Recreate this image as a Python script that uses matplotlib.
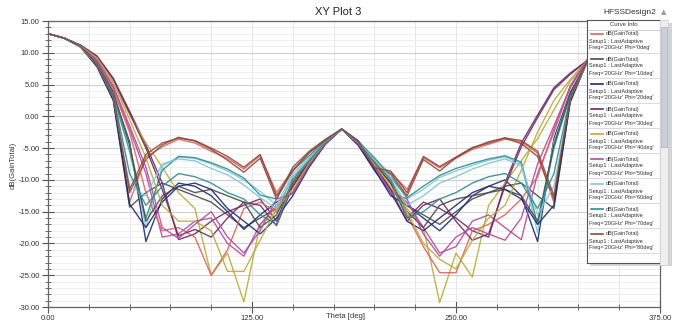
import numpy as np
import matplotlib
matplotlib.use("Agg")
import matplotlib.pyplot as plt
from matplotlib.ticker import MultipleLocator, FixedLocator
from matplotlib.patches import Rectangle

plt.rcParams['font.family'] = ['Liberation Sans', 'DejaVu Sans']

# ------------------------------
# data: dB(GainTotal) vs Theta, one curve per Phi cut
# ------------------------------
theta = list(range(0, 361, 10))
phi_list = [0, 10, 20, 30, 40, 50, 60, 70, 80, 90, 100, 110, 120, 130, 140, 150, 160, 170]

gain_phi0 = [13.0, 12.3, 11.0, 8.0, 2.8, -13.5, -6.4, -4.8, -3.6, -4.2, -5.5, -6.6, -8.3, -6.2, -12.0, -8.4, -5.8, -3.8, -2.0,
             -4.0, -8.2, -8.8, -11.5, -6.5, -8.1, -6.6, -5.2, -4.4, -3.6, -4.0, -5.8, -13.6, 2.6, 8.6, 11.0, 12.3, 13.0]
gain_phi10 = [13.0, 12.3, 10.9, 7.8, 2.5, -14.3, -12.0, -10.5, -11.5, -12.5, -13.5, -15.5, -17.5, -16.0, -14.5, -11.0, -7.5, -4.2, -2.0,
              -4.3, -8.0, -11.5, -14.0, -15.5, -17.0, -15.0, -13.0, -12.0, -11.0, -10.5, -12.5, -14.5, 2.2, 8.4, 10.9, 12.3, 13.0]
gain_phi20 = [13.0, 12.3, 11.0, 8.2, 3.5, -4.0, -19.7, -13.0, -10.5, -11.0, -12.5, -15.0, -17.8, -15.5, -13.5, -12.0, -7.8, -4.3, -2.0,
              -4.5, -8.3, -12.5, -14.0, -16.0, -18.0, -15.5, -12.5, -11.0, -10.0, -12.5, -19.7, -3.5, 3.8, 8.3, 11.0, 12.3, 13.0]
gain_phi30 = [13.0, 12.3, 11.2, 9.5, 6.0, 0.8, -4.5, -10.5, -19.4, -18.5, -16.5, -15.0, -14.0, -13.0, -16.5, -10.0, -7.0, -4.0, -2.0,
              -3.8, -7.2, -10.5, -16.0, -13.5, -14.5, -16.0, -18.0, -19.0, -10.5, -4.2, 0.2, 4.5, 6.8, 8.7, 11.2, 12.3, 13.0]
gain_phi40 = [13.0, 12.3, 11.1, 9.2, 5.3, 0.3, -4.2, -8.0, -12.0, -14.5, -25.0, -21.5, -29.2, -17.0, -15.0, -10.5, -7.0, -4.0, -2.0,
              -4.1, -7.3, -10.0, -14.5, -17.5, -29.3, -21.5, -25.3, -14.0, -10.5, -7.0, -3.5, 1.0, 5.5, 8.6, 11.1, 12.3, 13.0]
gain_phi50 = [13.0, 12.3, 11.0, 8.8, 4.5, -2.0, -9.0, -19.0, -18.5, -16.5, -16.0, -20.0, -22.0, -17.0, -14.0, -12.0, -7.5, -4.2, -2.0,
              -4.4, -7.8, -11.5, -13.5, -17.5, -21.5, -20.5, -16.5, -15.5, -17.5, -19.4, -9.0, -2.5, 4.8, 8.8, 11.0, 12.3, 13.0]
gain_phi60 = [13.0, 12.3, 10.9, 8.2, 3.5, -4.5, -17.5, -7.8, -6.4, -6.6, -7.5, -8.6, -10.0, -11.8, -14.0, -9.0, -6.5, -4.0, -2.0,
              -4.0, -6.7, -9.0, -13.0, -11.5, -9.6, -8.6, -7.7, -6.9, -6.4, -7.5, -18.3, -4.0, 3.5, 8.4, 10.9, 12.3, 13.0]
gain_phi70 = [13.0, 12.3, 11.0, 8.1, 3.2, -5.5, -16.0, -8.5, -6.3, -6.5, -7.3, -8.3, -9.7, -12.4, -13.0, -8.5, -6.2, -3.8, -2.0,
              -3.9, -6.5, -9.5, -12.8, -11.0, -9.3, -8.2, -7.4, -6.7, -6.2, -7.2, -17.0, -5.0, 3.2, 8.5, 11.0, 12.3, 13.0]
gain_phi80 = [13.0, 12.3, 11.1, 8.2, 3.2, -12.0, -6.8, -4.5, -3.3, -3.9, -5.2, -6.9, -8.8, -6.6, -13.0, -8.0, -5.5, -3.6, -2.0,
              -4.2, -8.0, -9.0, -12.5, -6.8, -8.6, -6.5, -5.0, -4.0, -3.4, -4.3, -6.3, -13.0, 3.0, 8.6, 11.1, 12.3, 13.0]
gain_phi90 = [13.0, 12.3, 11.0, 8.6, 4.2, -2.5, -12.0, -18.0, -17.5, -19.0, -25.0, -21.0, -14.5, -13.5, -15.0, -9.5, -6.8, -4.0, -2.0,
              -4.2, -7.0, -10.0, -15.5, -20.5, -24.6, -24.6, -18.0, -17.0, -15.5, -13.0, -9.5, -2.0, 4.5, 8.6, 11.0, 12.3, 13.0]
gain_phi100 = [13.0, 12.3, 11.0, 8.4, 3.8, -4.5, -16.5, -12.5, -11.0, -12.0, -11.5, -12.5, -13.5, -17.5, -15.5, -10.5, -7.3, -4.1, -2.0,
               -4.0, -7.6, -10.5, -15.0, -17.5, -14.0, -13.0, -12.5, -12.0, -11.5, -12.5, -16.5, -4.5, 3.6, 8.4, 11.0, 12.3, 13.0]
gain_phi110 = [13.0, 12.3, 10.9, 7.9, 2.6, -13.8, -17.5, -13.5, -11.0, -10.5, -11.5, -14.5, -16.5, -18.5, -16.0, -12.5, -8.0, -4.4, -2.0,
               -4.5, -8.5, -12.0, -16.5, -18.0, -16.0, -14.0, -12.0, -11.0, -11.5, -13.0, -17.0, -14.0, 2.4, 8.3, 10.9, 12.3, 13.0]
gain_phi120 = [13.0, 12.3, 11.2, 9.4, 5.8, 0.5, -5.0, -11.5, -18.8, -17.8, -19.0, -16.0, -13.5, -14.0, -17.2, -11.0, -7.2, -4.2, -2.0,
               -4.0, -7.5, -11.5, -16.5, -14.0, -13.0, -16.5, -19.5, -18.5, -11.0, -4.8, -0.2, 4.2, 6.6, 8.7, 11.2, 12.3, 13.0]
gain_phi130 = [13.0, 12.3, 11.1, 9.2, 5.4, -0.5, -6.5, -14.0, -16.5, -16.5, -18.0, -24.4, -24.4, -19.5, -14.5, -11.5, -7.4, -4.1, -2.0,
               -4.2, -7.6, -11.0, -15.0, -20.0, -22.5, -24.0, -19.5, -16.0, -14.0, -8.5, -2.5, 2.5, 5.8, 8.7, 11.1, 12.3, 13.0]
gain_phi140 = [13.0, 12.3, 11.0, 8.9, 4.8, -1.5, -8.0, -17.5, -19.2, -17.0, -15.0, -19.0, -21.5, -18.0, -13.0, -12.2, -7.7, -4.3, -2.0,
               -4.3, -7.9, -12.0, -13.0, -18.5, -22.0, -19.0, -17.5, -18.5, -19.5, -16.0, -7.5, -1.5, 4.6, 8.8, 11.0, 12.3, 13.0]
gain_phi150 = [13.0, 12.3, 10.9, 8.1, 3.0, -11.0, -12.5, -7.5, -6.7, -7.0, -8.2, -9.2, -10.8, -12.8, -14.5, -9.5, -6.7, -4.0, -2.0,
               -4.1, -6.9, -9.6, -14.0, -12.5, -10.5, -9.5, -8.3, -7.4, -6.7, -7.8, -15.5, -11.0, 2.8, 8.3, 10.9, 12.3, 13.0]
gain_phi160 = [13.0, 12.3, 11.0, 8.3, 3.3, -9.0, -14.0, -11.0, -9.0, -9.5, -10.5, -12.0, -13.0, -15.5, -17.0, -10.0, -7.0, -4.0, -2.0,
               -4.1, -7.2, -10.0, -16.0, -15.0, -13.0, -12.0, -10.5, -9.5, -9.0, -10.5, -14.5, -9.0, 3.1, 8.4, 11.0, 12.3, 13.0]
gain_phi170 = [13.0, 12.3, 11.0, 8.1, 3.0, -11.5, -6.0, -4.2, -3.4, -3.8, -5.0, -6.3, -8.0, -6.0, -12.5, -8.6, -5.7, -3.7, -2.0,
               -3.9, -8.1, -8.6, -12.0, -6.3, -7.9, -6.4, -4.9, -4.2, -3.4, -3.8, -5.5, -12.5, 2.8, 8.5, 11.0, 12.3, 13.0]

gains = [gain_phi0, gain_phi10, gain_phi20, gain_phi30, gain_phi40, gain_phi50,
         gain_phi60, gain_phi70, gain_phi80, gain_phi90, gain_phi100, gain_phi110,
         gain_phi120, gain_phi130, gain_phi140, gain_phi150, gain_phi160, gain_phi170]

# HFSS-like color cycle
colors = ["#e0625c", "#4b4b4b", "#1e2c6e", "#6e2a60", "#b9ac3c",
          "#b24c9c", "#82c6da", "#2f8f8c", "#8c4a3c"]

x_ticks = [0, 125, 250, 375]
y_ticks = [15, 10, 5, 0, -5, -10, -15, -20, -25, -30]

# ------------------------------
# figure
# ------------------------------
W, H = 677, 322
fig = plt.figure(figsize=(W / 100, H / 100), dpi=100)
ax = fig.add_axes([48 / W, 15 / H, (660 - 48) / W, (307 - 21) / H])

for i, g in enumerate(gains):
    ax.plot(theta, g, color=colors[i % len(colors)], lw=1.0, alpha=0.9)

ax.set_xlim(0, 375)
ax.set_ylim(-30, 15)
ax.xaxis.set_major_locator(FixedLocator(x_ticks))
ax.xaxis.set_minor_locator(MultipleLocator(25))
ax.yaxis.set_major_locator(FixedLocator(y_ticks))
ax.yaxis.set_minor_locator(MultipleLocator(1))
ax.set_xticklabels([f"{v:.2f}" for v in x_ticks], fontsize=5.5, color="#333333")
ax.set_yticklabels([f"{v:.2f}" for v in y_ticks], fontsize=5.5, color="#333333")

ax.grid(which="major", axis="y", color="#cfcfcf", lw=0.8)
ax.grid(which="minor", axis="y", color="#ececec", lw=0.6)
ax.grid(which="both", axis="x", color="#e2e2e2", lw=0.6)
ax.set_axisbelow(True)

ax.tick_params(which="major", direction="inout", length=8, width=0.8, color="#555555", pad=2)
ax.tick_params(which="minor", direction="inout", length=4, width=0.6, color="#555555")
for s in ax.spines.values():
    s.set_color("#666666")
    s.set_linewidth(0.9)

fig.text(0.5, 1 - 12 / H, "XY Plot 3", ha="center", va="center", fontsize=8, color="#222222")
fig.text(630 / W, 1 - 12 / H, "HFSSDesign2", ha="center", va="center", fontsize=6, color="#333333")
fig.text(664 / W, 1 - 12 / H, "\u25b2", ha="center", va="center", fontsize=5, color="#999999",
         family="DejaVu Sans")
fig.text(13 / W, 1 - 165 / H, "dB(GainTotal)", rotation=90, ha="center", va="center",
         fontsize=5.5, color="#333333")
fig.text(345 / W, 1 - 317 / H, "Theta [deg]", ha="center", va="center", fontsize=5.5, color="#333333")

# ------------------------------
# curve info box (legend)
# ------------------------------
lx0, lx1, ly0, ly1 = 587, 660, 20, 263
fig.patches.append(Rectangle(((lx0 + 3) / W, 1 - (ly1 + 3) / H), (lx1 - lx0 + 9) / W, (ly1 - ly0) / H,
                             transform=fig.transFigure, facecolor="#d4d4d4", edgecolor="none", zorder=2))
lax = fig.add_axes([lx0 / W, 1 - ly1 / H, (lx1 - lx0) / W, (ly1 - ly0) / H], zorder=3)
lax.set_xlim(0, lx1 - lx0)
lax.set_ylim(ly1 - ly0, 0)
lax.set_xticks([])
lax.set_yticks([])
for s in lax.spines.values():
    s.set_color("#555555")
    s.set_linewidth(0.8)
lax.text((lx1 - lx0) / 2, 5, "Curve Info", ha="center", va="center", fontsize=4.3, color="#333333")
lax.axhline(10, color="#bbbbbb", lw=0.5)
for i, phi in enumerate(phi_list[:9]):
    y0 = 14 + i * 25
    lax.plot([4, 16], [y0, y0], color=colors[i], lw=1.2)
    lax.text(19, y0, "dB(GainTotal)", va="center", fontsize=4, color="#333333")
    lax.text(2, y0 + 7, "Setup1 : LastAdaptive", va="center", fontsize=4, color="#333333")
    lax.text(2, y0 + 14, f"Freq='20GHz' Phi='{phi}deg'", va="center", fontsize=4, color="#333333")
    lax.axhline(y0 + 19, color="#cccccc", lw=0.5)

# scroll bar
sax = fig.add_axes([lx1 / W, 1 - (ly1 + 2) / H, 8 / W, (ly1 - ly0 + 2) / H], zorder=3)
sax.set_facecolor("#eeeeee")
sax.set_xticks([])
sax.set_yticks([])
for s in sax.spines.values():
    s.set_color("#cccccc")
    s.set_linewidth(0.5)
sax.add_patch(Rectangle((0.1, 0.48), 0.8, 0.49, transform=sax.transAxes, facecolor="#c8d0dc", edgecolor="#a0a8b4", lw=0.4))

fig.savefig("out.png", dpi=100)
